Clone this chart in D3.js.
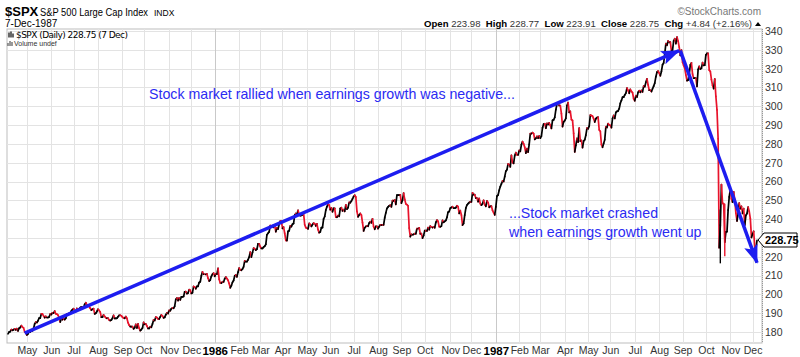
<!DOCTYPE html>
<html><head><meta charset="utf-8">
<script src="https://cdn.jsdelivr.net/npm/d3@7"></script>
<style>
body{margin:0;background:#fff}
svg{display:block;font-family:Arial,"Liberation Sans",sans-serif}
</style>
</head><body>
<svg id="c" width="800" height="357"></svg>
<script>
// ---- data ----
const monthLabels = ["May","Jun","Jul","Aug","Sep","Oct","Nov","Dec",
  "1986","Feb","Mar","Apr","May","Jun","Jul","Aug","Sep","Oct","Nov","Dec",
  "1987","Feb","Mar","Apr","May","Jun","Jul","Aug","Sep","Oct","Nov","Dec"];
// trading days in each month shown (Apr 1985 partial ... Dec 1987 partial)
const monthDays = [17, 22,20,22,22,19,23,20,21,
  22,19,20,22,21,21,22,21,21,23,19,22,
  21,19,22,21,20,22,22,21,21,22,20,5];
const priceTicks = [180,190,200,210,220,230,240,250,260,270,280,290,300,310,320,330,340];

const closes1985 = [
 179.0,180.0,180.2,181.3,180.9,181.2,181.7,181.1,181.8,180.6,182.0,182.4,183.4,182.6,182.2,180.1,179.8,
 178.4,179.0,180.1,179.9,181.0,180.6,181.9,184.3,185.3,185.0,186.0,187.4,187.4,189.7,189.6,188.6,187.6,188.3,187.7,187.7,188.0,189.6,
 189.3,190.2,190.0,191.1,189.7,189.5,189.0,187.6,185.3,187.1,186.6,187.3,186.6,187.3,189.6,189.1,189.9,190.1,191.2,191.9,
 192.4,191.5,190.9,192.5,192.3,191.9,193.0,193.3,193.3,192.7,194.7,195.6,194.4,194.3,193.6,192.6,191.6,192.1,192.4,189.6,190.0,190.9,
 192.1,191.5,190.6,187.9,187.9,189.1,188.3,187.6,187.3,187.4,186.4,186.1,186.4,187.3,188.9,187.2,187.2,187.3,188.1,188.8,188.9,188.6,
 187.9,187.4,187.3,188.2,187.3,185.0,183.7,182.9,182.9,182.9,181.7,182.3,184.1,182.1,184.3,182.0,180.7,181.3,182.1,
 185.1,184.1,184.3,183.2,181.9,181.9,182.8,182.5,184.3,186.4,186.1,187.9,187.7,187.0,186.9,188.0,189.1,188.5,187.5,187.8,189.2,190.1,189.8,
 191.5,191.3,192.4,192.8,192.6,193.7,197.3,198.1,196.7,198.1,197.1,198.7,198.7,198.9,201.4,201.5,200.4,200.7,202.5,202.2,
 200.5,200.9,204.2,203.9,203.0,204.3,204.3,206.3,206.7,209.9,212.0,210.7,210.7,210.6,210.9,208.6,207.1,207.6,209.6,210.7,211.3];
const closes1986 = [
 209.6,210.9,210.7,213.8,208.0,206.1,206.0,206.7,206.6,208.3,209.2,208.4,207.5,205.8,203.5,204.6,206.4,207.4,209.8,210.3,209.3,211.8,
 214.0,213.0,212.8,213.5,214.6,217.8,217.4,217.4,218.4,219.8,222.5,219.8,222.2,224.6,224.3,223.5,224.0,226.8,226.9,
 225.4,224.4,224.4,225.1,225.6,226.6,231.7,232.5,233.2,236.6,235.8,236.5,235.6,236.5,233.3,235.3,234.7,237.3,239.0,238.9,
 235.1,235.7,232.5,228.7,228.6,233.5,233.8,236.4,236.0,237.3,237.7,242.2,243.0,242.4,244.7,242.4,241.8,242.0,242.3,243.1,237.0,235.5,
 235.2,234.8,237.7,237.2,236.1,237.1,237.9,237.6,236.4,237.5,234.4,232.8,233.2,235.5,235.5,240.1,241.4,244.8,246.6,248.0,247.4,
 245.0,246.0,243.9,245.7,245.7,241.1,241.0,241.9,241.5,245.7,246.1,244.4,245.0,244.1,247.6,245.3,246.1,248.9,248.7,249.6,250.8,
 252.0,252.7,251.8,244.1,241.2,242.2,243.0,242.2,238.1,233.7,235.4,236.1,236.4,236.2,237.9,238.7,238.0,240.2,236.0,234.6,236.1,236.1,
 234.9,236.0,237.0,236.8,237.0,236.9,240.7,243.3,245.7,246.5,247.1,247.4,246.5,249.8,249.7,250.2,247.8,252.8,252.8,252.8,252.9,
 248.5,250.1,253.8,250.5,248.1,247.7,247.1,235.2,230.7,231.9,231.7,231.9,232.3,232.2,235.0,234.9,235.4,232.2,232.3,229.9,231.3,
 233.9,233.9,233.7,235.5,234.4,236.3,235.9,235.5,235.9,235.4,238.3,239.5,238.8,236.0,235.9,236.3,239.3,238.3,238.8,239.3,240.9,243.7,244.0,
 245.8,246.2,246.6,245.8,245.8,246.1,247.1,246.6,243.0,244.5,242.2,236.8,237.7,242.1,245.9,247.5,248.2,248.8,249.2,
 249.1,254.0,253.0,253.0,251.2,251.2,249.3,251.0,248.2,247.4,248.2,250.0,247.6,246.8,249.7,248.8,246.3,246.8,246.9,244.7,243.4,242.2];
const closes1987 = [
 246.5,252.2,252.8,255.3,257.3,258.7,260.3,260.0,262.6,265.5,266.3,269.3,269.0,267.8,273.9,270.1,269.6,273.8,275.4,274.2,274.1,
 276.5,276.0,279.6,281.2,280.0,278.2,275.1,277.5,275.6,279.7,285.5,285.4,286.0,285.5,282.4,282.9,284.0,283.0,284.2,
 283.0,284.1,288.6,290.5,290.7,288.3,290.9,290.3,291.2,289.9,288.2,292.5,292.8,294.1,298.2,301.2,301.6,300.4,300.4,296.1,289.2,291.7,
 292.4,293.6,300.4,302.0,296.7,297.3,292.9,292.5,285.6,275.7,279.2,282.9,280.9,288.4,281.5,281.8,278.0,281.5,282.2,284.6,288.4,
 288.0,289.4,295.3,295.1,294.7,293.4,291.6,293.4,294.0,294.2,287.4,286.7,279.6,278.2,280.2,282.2,289.1,288.7,290.8,290.1,
 289.8,288.6,293.5,295.1,293.5,296.7,297.3,297.5,298.7,301.6,303.1,304.8,304.8,306.0,307.0,309.7,308.4,306.9,309.0,307.9,307.2,304.0,
 302.9,305.6,304.9,307.4,308.3,307.4,308.4,307.6,310.7,310.4,312.7,314.6,311.4,308.5,308.5,307.8,309.3,310.7,312.3,315.7,318.1,318.7,
 317.6,316.2,318.5,322.1,323.0,328.0,333.3,332.4,334.7,334.0,334.1,329.3,329.8,334.8,335.9,333.3,336.8,334.6,331.4,327.0,329.8,
 323.4,321.7,320.2,316.7,313.6,313.9,317.1,322.0,323.1,317.1,314.9,314.9,314.9,310.5,319.5,321.2,319.7,320.2,323.2,321.7,321.8,
 327.3,328.1,328.1,319.2,318.5,314.2,311.1,309.4,314.5,305.2,298.1,282.7,224.8,236.8,258.4,248.3,248.2,227.7,233.2,233.3,244.8,251.8,
 255.8,250.8,249.0,254.5,250.4,243.2,239.0,243.1,248.5,245.6,246.8,243.0,245.6,236.8,242.0,243.0,246.4,244.1,240.3,230.3,
 232.0,233.5,225.2,223.9,228.75];
// intraday extremes of the post-crash sessions (day index in the series)
const rangeDays  = [641, 645];
const rangeLows  = [216.5, 220.3];
const rangeHighs = [245.1, 248.2];
// annotation arrows: [trading-day index, price]
const arrowRally = [[15, 179.4], [604, 329.6]];
const arrowCrash = [[605, 329.6], [674, 216.8]];

// ---- chart ----
const closes = closes1985.concat(closes1986, closes1987);
const svg = d3.select("#c");
const L = 7, R = 762, T = 29, B = 343;
const x = d3.scaleLinear().domain([0, closes.length - 1]).range([8, 757]);
const y = d3.scaleLinear().domain([180, 340]).range([332, 31]);
const starts = d3.cumsum(monthDays).slice(0, monthLabels.length);
const isYear = i => /^\d{4}$/.test(monthLabels[i]);

// frame and grid
svg.append("rect").attr("x", L).attr("y", T).attr("width", R - L).attr("height", B - T)
  .attr("fill", "#fff").attr("stroke", "#bdbdbd");
svg.append("g").selectAll("line").data(priceTicks).join("line")
  .attr("x1", L).attr("x2", R).attr("y1", d => Math.round(y(d)) + 0.5).attr("y2", d => Math.round(y(d)) + 0.5)
  .attr("stroke", "#e3e3e3");
svg.append("g").selectAll("line").data(starts).join("line")
  .attr("x1", d => Math.round(x(d)) + 0.5).attr("x2", d => Math.round(x(d)) + 0.5)
  .attr("y1", T).attr("y2", B)
  .attr("stroke", (d, i) => isYear(i) ? "#c9c9c9" : "#e3e3e3");
svg.append("line").attr("x1", R + 0.5).attr("x2", R + 0.5).attr("y1", T).attr("y2", B)
  .attr("stroke", "#999").attr("stroke-dasharray", "1,1");

// price series: segments black when up, red when down
const segs = d3.range(1, closes.length);
svg.append("g").selectAll("line").data(segs).join("line")
  .attr("x1", i => x(i - 1)).attr("y1", i => y(closes[i - 1]))
  .attr("x2", i => x(i)).attr("y2", i => y(closes[i]))
  .attr("stroke", i => closes[i] >= closes[i - 1] ? "#000" : "#e8132b")
  .attr("stroke-width", 1.7).attr("stroke-linecap", "round");
svg.append("g").selectAll("line").data(rangeDays).join("line")
  .attr("x1", d => x(d)).attr("x2", d => x(d))
  .attr("y1", (d, i) => y(rangeLows[i])).attr("y2", (d, i) => y(rangeHighs[i]))
  .attr("stroke", (d, i) => closes[d] >= closes[d - 1] ? "#000" : "#e8132b").attr("stroke-width", 1.4);

// axes
const yAxis = d3.axisRight(y).tickValues(priceTicks).tickSize(0).tickPadding(3);
const ya = svg.append("g").attr("transform", `translate(${R},0)`).call(yAxis);
ya.select(".domain").remove();
ya.selectAll("text").attr("font-size", 10.5).attr("fill", "#333").attr("font-family", "Arial, Liberation Sans, sans-serif");

const xAxis = d3.axisBottom(x).tickValues(starts).tickSize(0).tickPadding(4)
  .tickFormat((d, i) => monthLabels[i]);
const xa = svg.append("g").attr("transform", `translate(0,${B})`).call(xAxis);
xa.select(".domain").remove();
xa.selectAll("text").attr("font-family", "Arial, Liberation Sans, sans-serif")
  .attr("font-size", (d, i) => isYear(i) ? 11.5 : 10.5)
  .attr("font-weight", (d, i) => isYear(i) ? "bold" : "normal")
  .attr("fill", (d, i) => isYear(i) ? "#000" : "#333");

// last price tag (covers the 230 label, as in the original)
const last = closes[closes.length - 1];
const ly = Math.round(y(last));
svg.append("path")
  .attr("d", `M${R - 4},${ly} L${R + 2},${ly - 7} H${R + 35} V${ly + 7} H${R + 2} Z`)
  .attr("fill", "#fff").attr("stroke", "#000");
svg.append("text").attr("x", R + 3).attr("y", ly + 4).attr("font-size", 11).attr("font-weight", "bold")
  .text(d3.format(".2f")(last));

// arrows
const blue = "#1d1df0";
const defs = svg.append("defs");
defs.append("marker").attr("id", "ah").attr("markerUnits", "userSpaceOnUse")
  .attr("markerWidth", 22).attr("markerHeight", 16).attr("refX", 18).attr("refY", 7)
  .attr("orient", "auto")
  .append("path").attr("d", "M0,0 L19,7 L0,14 L4,7 Z").attr("fill", blue);
const ln = d3.line().x(d => x(d[0])).y(d => y(d[1]));
[arrowRally, arrowCrash].forEach(a => {
  svg.append("path").attr("d", ln(a)).attr("stroke", blue).attr("stroke-width", 3.5)
    .attr("fill", "none").attr("marker-end", "url(#ah)");
});

// annotations
const noteColor = "#2b2bf2";
svg.append("text").attr("x", 149).attr("y", 99).attr("font-size", 14.2).attr("fill", noteColor)
  .text("Stock market rallied when earnings growth was negative...");
svg.append("text").attr("x", 509).attr("y", 218).attr("font-size", 14.2).attr("fill", noteColor)
  .text("...Stock market crashed");
svg.append("text").attr("x", 509).attr("y", 237).attr("font-size", 14.2).attr("fill", noteColor)
  .text("when earnings growth went up");

// header
const h = svg.append("g");
h.append("text").attr("x", 5).attr("y", 16).attr("font-size", 13).attr("font-weight", "bold").text("$SPX");
h.append("text").attr("x", 40).attr("y", 16).attr("font-size", 10).attr("textLength", 108)
  .attr("lengthAdjust", "spacingAndGlyphs").text("S&P 500 Large Cap Index");
h.append("text").attr("x", 154).attr("y", 16).attr("font-size", 8.5).text("INDX");
h.append("text").attr("x", 5).attr("y", 27).attr("font-size", 10).text("7-Dec-1987");
h.append("text").attr("x", 761).attr("y", 15).attr("font-size", 10).attr("fill", "#777")
  .attr("text-anchor", "end").text("\u00A9StockCharts.com");
const q = h.append("text").attr("x", 752).attr("y", 27).attr("font-size", 9.6).attr("text-anchor", "end");
[["Open", 1], [" 223.98  ", 0], ["High", 1], [" 228.77  ", 0], ["Low", 1], [" 223.91  ", 0],
 ["Close", 1], [" 228.75  ", 0], ["Chg", 1], [" +4.84 (+2.16%)", 0]].forEach(([t, b]) => {
  q.append("tspan").attr("font-weight", b ? "bold" : "normal").attr("fill", b ? "#000" : "#333")
    .attr("xml:space", "preserve").text(t);
});
h.append("path").attr("d", "M755,26 L758,22 L761,26 Z").attr("fill", "#000");
// legend inside the plot
h.append("path").attr("d", "M9,32.5 v5 M11,31.5 v6 M13,33.5 v4").attr("stroke", "#000").attr("stroke-width", 1.2);
h.append("text").attr("x", 16).attr("y", 37.5).attr("font-size", 9).attr("font-family", "DejaVu Sans, Verdana, sans-serif")
  .attr("textLength", 112).text("$SPX (Daily) 228.75 (7 Dec)");
h.append("path").attr("d", "M8,46 v-3 M10,46 v-5 M12,46 v-4").attr("stroke", "#555").attr("stroke-width", 1.2);
h.append("text").attr("x", 14).attr("y", 46).attr("font-size", 7).attr("fill", "#333").text("Volume undef");
</script>
</body></html>
